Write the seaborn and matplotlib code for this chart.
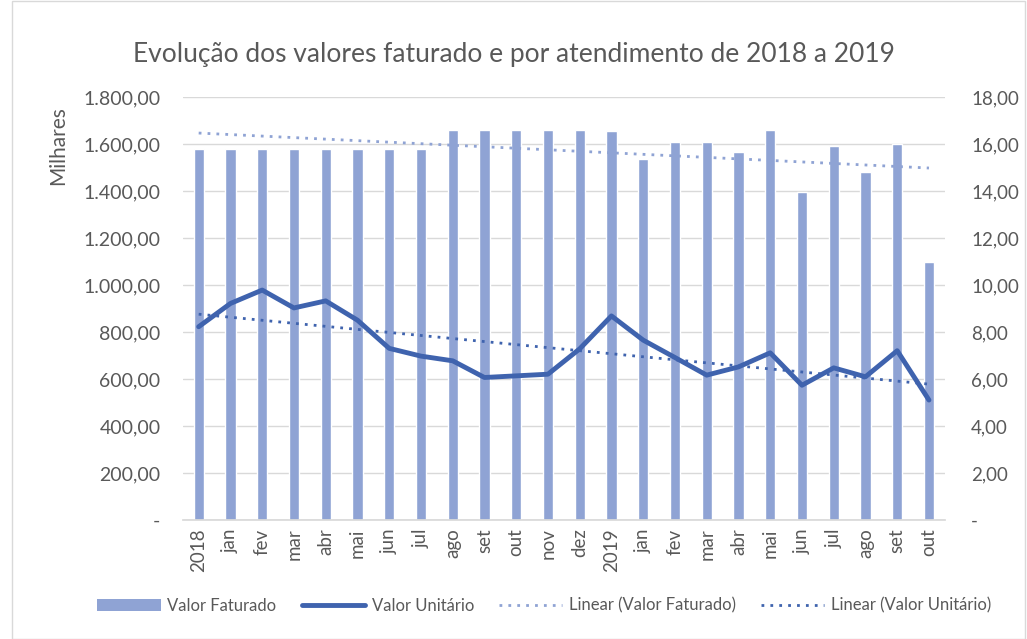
import numpy as np
import pandas as pd
import matplotlib
matplotlib.use("Agg")
import matplotlib.pyplot as plt
import seaborn as sns
from matplotlib.ticker import FuncFormatter
from matplotlib.lines import Line2D
from matplotlib.patches import Patch

categories = ["2018", "jan", "fev", "mar", "abr", "mai", "jun", "jul", "ago", "set", "out", "nov", "dez",
              "2019", "jan", "fev", "mar", "abr", "mai", "jun", "jul", "ago", "set", "out"]
valor_faturado = [1580, 1580, 1580, 1580, 1580, 1580, 1580, 1580, 1660, 1660, 1660, 1660, 1660,
                  1655, 1536, 1610, 1610, 1565, 1660, 1397, 1591, 1482, 1601, 1099]
valor_unitario = [8.23, 9.22, 9.79, 9.03, 9.33, 8.51, 7.31, 6.98, 6.78, 6.07, 6.14, 6.21, 7.29,
                  8.69, 7.66, 6.92, 6.17, 6.52, 7.12, 5.74, 6.48, 6.10, 7.21, 5.11]

bar_color = "#8FA3D4"
line_color = "#3F63AE"
text_color = "#595959"

sns.set_theme(style="white")
plt.rcParams["font.family"] = ["Lato", "DejaVu Sans"]

df = pd.DataFrame({"idx": np.arange(len(categories)), "fat": valor_faturado, "uni": valor_unitario})

fig = plt.figure(figsize=(10.27, 6.39), dpi=100)
ax = fig.add_axes([0.178, 0.186, 0.742, 0.662])

sns.barplot(data=df, x="idx", y="fat", color=bar_color, width=0.32, saturation=1, ax=ax, zorder=2)
ax.set_ylim(0, 1800)
ax.set_yticks(np.arange(0, 1801, 200))
ax.yaxis.grid(True, color="#D9D9D9", linewidth=1, zorder=0)
ax.set_axisbelow(True)

def fmt_left(v, pos):
    if v == 0:
        return "-"
    s = f"{v:,.2f}"
    return s.replace(",", "X").replace(".", ",").replace("X", ".")

def fmt_right(v, pos):
    if v == 0:
        return "-"
    return f"{v:.2f}".replace(".", ",")

ax.yaxis.set_major_formatter(FuncFormatter(fmt_left))
ax.set_xticks(np.arange(len(categories)))
ax.set_xticklabels(categories, rotation=90, fontsize=13.5, color=text_color)
ax.tick_params(axis="y", labelsize=14, labelcolor=text_color, length=0, pad=16)
ax.tick_params(axis="x", length=0, pad=6)
ax.set_xlabel("")
ax.set_ylabel("Milhares", fontsize=15, color=text_color)
ax.yaxis.set_label_coords(-0.15, 0.885)
for s in ["top", "right", "left"]:
    ax.spines[s].set_visible(False)
ax.spines["bottom"].set_color("#D9D9D9")
ax.set_xlim(-0.5, len(categories) - 0.5)

# trend for bars
x = np.arange(len(categories))
p1 = np.polyfit(x, valor_faturado, 1)
ax.plot(x, np.polyval(p1, x), linestyle=(0, (1, 2.2)), color=bar_color, linewidth=2, zorder=3)

ax2 = ax.twinx()
sns.lineplot(data=df, x="idx", y="uni", color=line_color, linewidth=3.5, ax=ax2, zorder=4)
p2 = np.polyfit(x, valor_unitario, 1)
ax2.plot(x, np.polyval(p2, x), linestyle=(0, (1, 2.2)), color=line_color, linewidth=2, zorder=5)
ax2.set_ylim(0, 18)
ax2.set_yticks(np.arange(0, 18.1, 2))
ax2.yaxis.set_major_formatter(FuncFormatter(fmt_right))
ax2.tick_params(axis="y", labelsize=13.5, labelcolor=text_color, length=0, pad=19)
ax2.set_ylabel("")
ax2.set_xlabel("")
for s in ["top", "right", "left", "bottom"]:
    ax2.spines[s].set_visible(False)
ax2.set_xlim(-0.5, len(categories) - 0.5)

fig.suptitle("Evolução dos valores faturado e por atendimento de 2018 a 2019", y=0.935,
             fontsize=19, color=text_color)

handles = [
    Patch(facecolor=bar_color, edgecolor="none"),
    Line2D([0], [0], color=line_color, linewidth=3.5),
    Line2D([0], [0], color=bar_color, linewidth=2, linestyle=(0, (1, 2.2))),
    Line2D([0], [0], color=line_color, linewidth=2, linestyle=(0, (1, 2.2))),
]
labels = ["Valor Faturado", "Valor Unitário", "Linear (Valor Faturado)", "Linear (Valor Unitário)"]
fig.legend(handles, labels, loc="center", bbox_to_anchor=(0.53, 0.052), ncol=4, frameon=False,
           fontsize=12, labelcolor=text_color, handlelength=3.8, columnspacing=1.5, handletextpad=0.4)

border = plt.Rectangle((0.012, 0.0), 0.986, 0.998, transform=fig.transFigure, fill=False,
                       edgecolor="#D9D9D9", linewidth=1)
fig.patches.append(border)

fig.savefig("out.png", dpi=100)
